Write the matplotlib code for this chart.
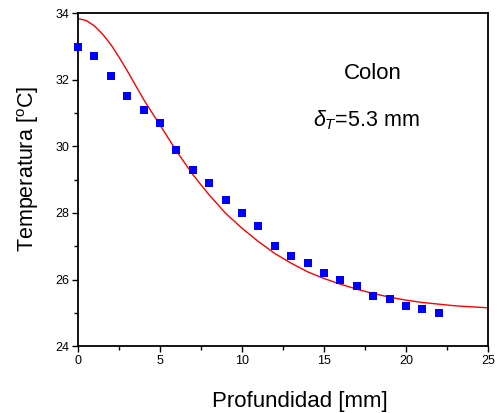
import matplotlib
matplotlib.use("Agg")
import matplotlib.pyplot as plt
from matplotlib.ticker import MultipleLocator

plt.rcParams['font.family'] = ['Liberation Sans', 'DejaVu Sans']
plt.rcParams['mathtext.fontset'] = 'custom'
plt.rcParams['mathtext.rm'] = 'Liberation Sans'
plt.rcParams['mathtext.it'] = 'Liberation Sans:italic'

# measured data
depth_mm = [0, 1, 2, 3, 4, 5, 6, 7, 8, 9, 10, 11, 12, 13, 14, 15, 16, 17, 18, 19, 20, 21, 22]
temp_meas = [33.0, 32.7, 32.1, 31.5, 31.1, 30.7, 29.9, 29.3, 28.9, 28.4, 28.0, 27.6, 27.0,
             26.7, 26.5, 26.2, 26.0, 25.8, 25.5, 25.4, 25.2, 25.1, 25.0]

# model curve
curve_x = [0, 0.5, 1, 1.5, 2, 2.5, 3, 3.5, 4, 4.5, 5, 6, 7, 8, 9, 10, 11, 12, 13, 14, 15,
           16, 17, 18, 19, 20, 21, 22, 23, 24, 25]
curve_y = [33.84, 33.78, 33.62, 33.37, 33.06, 32.68, 32.27, 31.84, 31.41, 31.02, 30.64,
           29.86, 29.15, 28.54, 27.99, 27.54, 27.14, 26.78, 26.49, 26.23, 26.03, 25.86,
           25.71, 25.58, 25.47, 25.38, 25.31, 25.26, 25.21, 25.18, 25.15]

fig = plt.figure(figsize=(4.97, 4.13), dpi=100)
ax = fig.add_axes([0.157, 0.162, 0.825, 0.806])

ax.plot(curve_x, curve_y, color='red', lw=1.0, zorder=2)
ax.plot(depth_mm, temp_meas, 's', color='#0000ff', markersize=6.3, markeredgewidth=0,
        zorder=3, clip_on=False)

ax.set_xlim(0, 25)
ax.set_ylim(24, 34)
ax.xaxis.set_major_locator(MultipleLocator(5))
ax.xaxis.set_minor_locator(MultipleLocator(2.5))
ax.yaxis.set_major_locator(MultipleLocator(2))
ax.yaxis.set_minor_locator(MultipleLocator(1))
ax.tick_params(which='major', direction='out', length=4.5, width=1.0, labelsize=9, pad=2,
               top=False, right=False)
ax.tick_params(which='minor', direction='out', length=3, width=1.0, top=False, right=False)
for s in ax.spines.values():
    s.set_linewidth(1.3)

ax.set_xlabel('Profundidad [mm]', fontsize=16, labelpad=17)
ax.set_ylabel(r'Temperatura [$^{\rm o}$C]', fontsize=15.5, labelpad=10)
ax.xaxis.label.set_x(0.541)
ax.yaxis.label.set_y(0.532)

ax.text(18.0, 32.2, 'Colon', fontsize=16, ha='center', va='center')
ax.text(17.6, 30.8, r'$\delta_T$=5.3 mm', fontsize=15.5, ha='center', va='center')

fig.savefig('out.png', dpi=100)
